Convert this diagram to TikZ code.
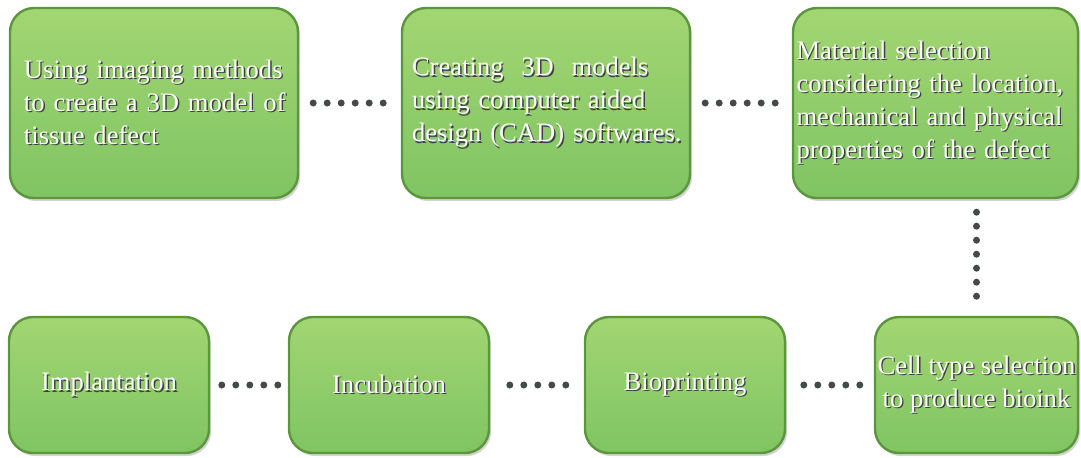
\documentclass[tikz,border=0pt]{standalone}
\usepackage{fontspec}
\setmainfont{Liberation Serif}
\usepackage{xcolor}
\usetikzlibrary{shadows}

\definecolor{boxtop}{RGB}{162,214,114}
\definecolor{boxbot}{RGB}{128,196,99}
\definecolor{boxedge}{RGB}{92,150,60}
\definecolor{dotgrey}{RGB}{70,74,70}

% white letters with a dark offset copy behind them
\newcommand{\shline}[1]{\mbox{\rlap{\kern0.7pt\raisebox{-0.7pt}{\textcolor{black!75}{#1}}}\textcolor{white}{#1}}}

\tikzset{
	stepbox/.style={draw=boxedge, line width=1.2pt, rounded corners=12pt,
			top color=boxtop, bottom color=boxbot,
			drop shadow={opacity=0.35, shadow xshift=1pt, shadow yshift=-1.5pt},
			inner sep=0pt, align=left,
			font=\fontsize{13.3}{16.5}\selectfont},
	bigbox/.style={stepbox, minimum width=144pt, minimum height=95pt},
	smallbox/.style={stepbox, minimum width=100pt, minimum height=68pt, align=center},
	dotline/.style={draw=dotgrey, line width=3.5pt, line cap=round,
			dash pattern=on 0pt off 7pt, shorten <=#1, shorten >=#1},
	dotline/.default=7pt
}

\begin{document}
\begin{tikzpicture}[x=0.5pt,y=-0.5pt]
		\useasboundingbox (0,0) rectangle (1081,457);

		% Top row
		\node[bigbox, text width=130pt] (img) at (154,103)
		{\shline{Using imaging methods}\\ \shline{to create a 3D model of}\\ \shline{tissue defect}};
		\node[bigbox, text width=134pt] (cad) at (546,103)
		{\shline{Creating\ \ 3D\ \ models}\\ \shline{using computer aided}\\ \shline{design (CAD) softwares.}};
		\node[bigbox, minimum width=142.5pt, text width=139pt] (mat) at (935.5,103)
		{\shline{Material selection}\\ \shline{considering the location,}\\ \shline{mechanical and physical}\\ \shline{properties of the defect}};

		% Bottom row
		\node[smallbox, minimum width=101.5pt] (cell) at (976.5,385)
		{\shline{Cell type selection}\\ \shline{to produce bioink}};
		\node[smallbox] (bio) at (685,385) {\shline{Bioprinting}};
		\node[smallbox] (incu) at (389,385) {\shline{Incubation}};
		\node[smallbox] (impl) at (109,385) {\shline{Implantation}};

		% Dotted links
		\draw[dotline] (img.east) -- (cad.west);
		\draw[dotline] (cad.east) -- (mat.west);
		\draw[dotline=6.5pt] (cell.north |- mat.south) -- (cell.north);
		\draw[dotline=7pt] (cell.west) -- (bio.east);
		\draw[dotline=9pt] (bio.west) -- (incu.east);
		\draw[dotline=5pt] (incu.west) -- (impl.east);
	\end{tikzpicture}
\end{document}
